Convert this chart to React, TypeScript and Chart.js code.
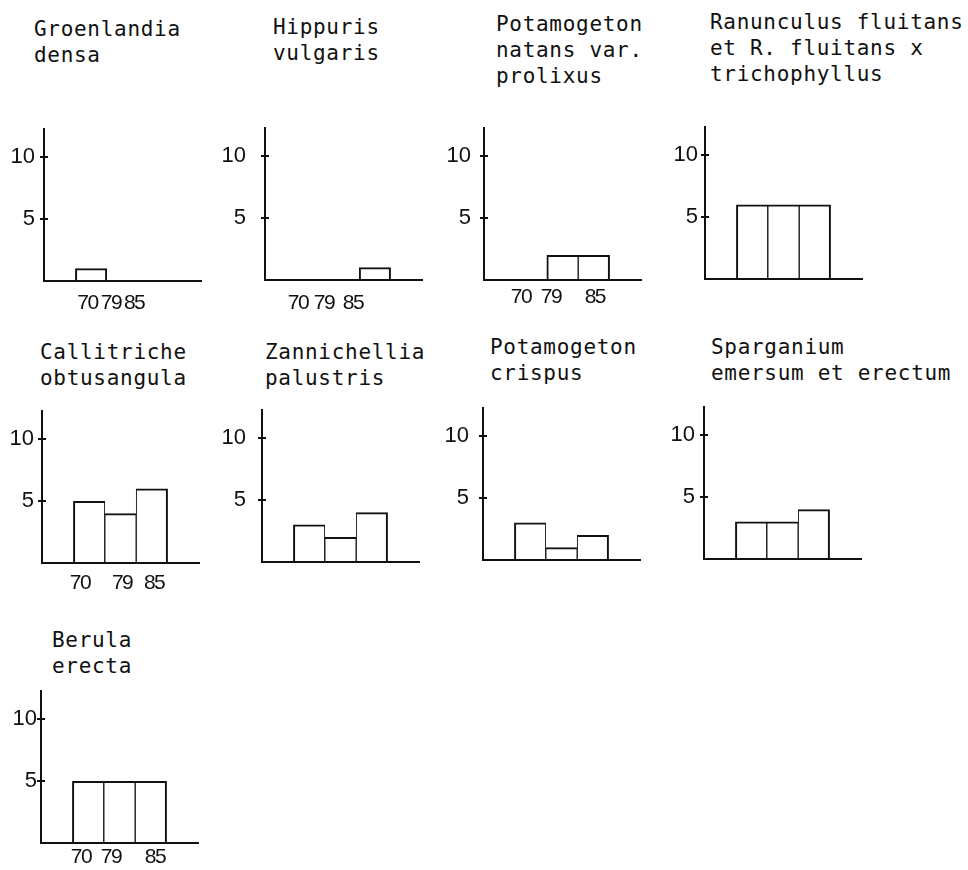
import React, { useEffect, useRef } from 'react';
import { Chart, registerables } from 'chart.js';

Chart.register(...registerables);

// ---------- data ----------
const categories = ['70', '79', '85'];
const yTicks = [5, 10];
const yMax = 12.3;

const groenlandiaDensa = [1, 0, 0];
const hippurisVulgaris = [0, 0, 1];
const potamogetonNatans = [0, 2, 2];
const ranunculusFluitans = [6, 6, 6];
const callitricheObtusangula = [5, 4, 6];
const zannichelliaPalustris = [3, 2, 4];
const potamogetonCrispus = [3, 1, 2];
const sparganiumEmersum = [3, 3, 4];
const berulaErecta = [5, 5, 5];

// ---------- layout / style ----------
const INK = '#111';
const Y_W = 50; // y-axis box width
const PAD_T = 6;
const PAD_R = 6;
const PLOT_W = 157;
const PLOT_H = 152;
const X_H = 40;

type PanelDef = {
  title: string[];
  values: number[];
  axisX: number;
  baseline: number;
  titleLeft: number;
  titleTop: number;
  yPad: number;
  xPad: number;
  labelPos: number[]; // in slot units along a 0..5 axis
};

const panels: PanelDef[] = [
  { title: ['Groenlandia', 'densa'], values: groenlandiaDensa, axisX: 44, baseline: 281, titleLeft: 34, titleTop: 16, yPad: 9, xPad: 10, labelPos: [1.385, 2.13, 2.87] },
  { title: ['Hippuris', 'vulgaris'], values: hippurisVulgaris, axisX: 265, baseline: 280, titleLeft: 273, titleTop: 14, yPad: 19, xPad: 11, labelPos: [1.05, 1.88, 2.8] },
  { title: ['Potamogeton', 'natans var.', 'prolixus'], values: potamogetonNatans, axisX: 484, baseline: 280, titleLeft: 496, titleTop: 11, yPad: 13, xPad: 5, labelPos: [1.18, 2.13, 3.53] },
  { title: ['Ranunculus fluitans', 'et R. fluitans x', 'trichophyllus'], values: ranunculusFluitans, axisX: 705, baseline: 279, titleLeft: 710, titleTop: 9, yPad: 7, xPad: 0, labelPos: [] },
  { title: ['Callitriche', 'obtusangula'], values: callitricheObtusangula, axisX: 42, baseline: 563, titleLeft: 40, titleTop: 339, yPad: 8, xPad: 8, labelPos: [1.21, 2.55, 3.57] },
  { title: ['Zannichellia', 'palustris'], values: zannichelliaPalustris, axisX: 262, baseline: 562, titleLeft: 265, titleTop: 339, yPad: 16, xPad: 0, labelPos: [] },
  { title: ['Potamogeton', 'crispus'], values: potamogetonCrispus, axisX: 483, baseline: 560, titleLeft: 490, titleTop: 334, yPad: 14, xPad: 0, labelPos: [] },
  { title: ['Sparganium', 'emersum et erectum'], values: sparganiumEmersum, axisX: 704, baseline: 559, titleLeft: 711, titleTop: 334, yPad: 9, xPad: 0, labelPos: [] },
  { title: ['Berula', 'erecta'], values: berulaErecta, axisX: 41, baseline: 843, titleLeft: 52, titleTop: 627, yPad: 4, xPad: 2, labelPos: [1.27, 2.23, 3.63] },
];

// narrower digit spacing for the x labels (drawn before datasets), normal afterwards
const tightLabels = {
  id: 'tightLabels',
  beforeDraw(chart: any) {
    (chart.ctx as any).letterSpacing = '-1.5px';
  },
  afterDatasetsDraw(chart: any) {
    (chart.ctx as any).letterSpacing = '0px';
  },
};

const crossTicks = {
  id: 'crossTicks',
  afterDraw(chart: any) {
    const ys = chart.scales.y;
    const ctx = chart.ctx;
    const x0 = chart.chartArea.left;
    ctx.save();
    ctx.strokeStyle = INK;
    ctx.lineWidth = 2;
    ys.ticks.forEach((t: any) => {
      const py = Math.round(ys.getPixelForValue(t.value));
      ctx.beginPath();
      ctx.moveTo(x0 - 4, py);
      ctx.lineTo(x0 + 4, py);
      ctx.stroke();
    });
    ctx.restore();
  },
};

function Panel({ p }: { p: PanelDef }) {
  const ref = useRef<HTMLCanvasElement>(null);
  const cw = Y_W + PLOT_W + PAD_R;
  const ch = PAD_T + PLOT_H + X_H;

  useEffect(() => {
    const hasLabels = p.labelPos.length > 0;
    const chart = new Chart(ref.current as HTMLCanvasElement, {
      type: 'bar',
      data: {
        labels: ['', ...categories, ''],
        datasets: [
          {
            data: [null, ...p.values, null] as any,
            backgroundColor: '#ffffff',
            borderColor: INK,
            borderSkipped: 'start',
            borderWidth: (c: any) => {
              const d = c.dataset.data as (number | null)[];
              const i = c.dataIndex;
              const left = (d[i - 1] ?? 0) > 0 ? 1 : 2;
              const right = (d[i + 1] ?? 0) > 0 ? 1 : 2;
              return { top: 2, left, right, bottom: 0 };
            },
            barPercentage: 1,
            categoryPercentage: 1,
            xAxisID: 'x',
            yAxisID: 'y',
          } as any,
        ],
      },
      options: {
        animation: false,
        responsive: false,
        devicePixelRatio: 1,
        events: [],
        layout: { padding: { top: PAD_T, right: PAD_R, left: 0, bottom: 0 } },
        plugins: {
          legend: { display: false },
          tooltip: { enabled: false },
          title: { display: false },
        },
        scales: {
          x: {
            type: 'category',
            position: 'bottom',
            weight: 0,
            offset: true,
            grid: { display: false, drawTicks: false },
            ticks: { display: false },
            border: { display: true, color: INK, width: 2, z: 1 },
            afterFit: (s: any) => {
              s.height = 0;
              s.paddingLeft = 0;
              s.paddingRight = 0;
            },
          },
          xl: {
            type: 'linear',
            position: 'bottom',
            weight: 1,
            min: 0,
            max: 5,
            offset: false,
            grid: { display: false, drawTicks: false, offset: false },
            border: { display: false },
            ticks: {
              display: hasLabels,
              autoSkip: false,
              maxRotation: 0,
              padding: p.xPad,
              color: INK,
              font: { family: "'Liberation Sans', Arial, sans-serif", size: 21 },
              callback: (_v: any, i: number) => categories[i] ?? '',
            },
            afterBuildTicks: (a: any) => {
              if (hasLabels) a.ticks = p.labelPos.map((v) => ({ value: v }));
            },
            afterFit: (s: any) => {
              s.height = X_H;
              s.paddingLeft = 0;
              s.paddingRight = 0;
            },
          },
          y: {
            type: 'linear',
            min: 0,
            max: yMax,
            grid: { display: false, drawTicks: false },
            border: { display: true, color: INK, width: 2, z: 1 },
            ticks: {
              z: 1,
              padding: p.yPad,
              color: INK,
              font: { family: "'Liberation Sans', Arial, sans-serif", size: 22 },
            },
            afterBuildTicks: (a: any) => {
              a.ticks = yTicks.map((v) => ({ value: v }));
            },
            afterFit: (s: any) => {
              s.width = Y_W;
              s.paddingTop = 0;
              s.paddingBottom = 0;
            },
          },
        } as any,
      },
      plugins: [tightLabels, crossTicks],
    });
    return () => chart.destroy();
  }, [p]);

  return (
    <canvas
      ref={ref}
      width={cw}
      height={ch}
      style={{
        position: 'absolute',
        left: p.axisX - Y_W,
        top: p.baseline - PLOT_H - PAD_T,
        width: cw,
        height: ch,
      }}
    />
  );
}

export default function App() {
  return (
    <div style={{ position: 'absolute', left: 0, top: 0, width: 968, height: 870, background: '#fff', overflow: 'hidden' }}>
      {panels.map((p, i) => (
        <React.Fragment key={i}>
          <div
            style={{
              position: 'absolute',
              left: p.titleLeft,
              top: p.titleTop,
              fontFamily: "'DejaVu Sans Mono', monospace",
              fontSize: 21,
              letterSpacing: '0.7px',
              lineHeight: '26px',
              whiteSpace: 'pre',
              color: INK,
            }}
          >
            {p.title.join('\n')}
          </div>
          <Panel p={p} />
        </React.Fragment>
      ))}
    </div>
  );
}
